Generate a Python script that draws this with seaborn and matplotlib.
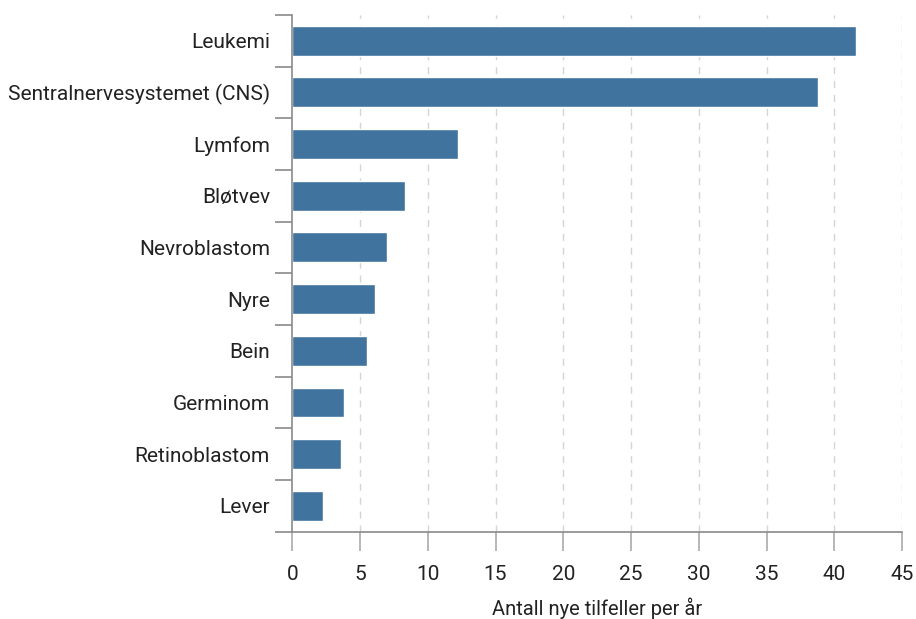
import pandas as pd
import matplotlib.pyplot as plt
import seaborn as sns

kreft = ['Leukemi', 'Sentralnervesystemet (CNS)', 'Lymfom', 'Bløtvev', 'Nevroblastom',
         'Nyre', 'Bein', 'Germinom', 'Retinoblastom', 'Lever']
tilfeller = [41.6, 38.8, 12.2, 8.3, 7.0, 6.1, 5.5, 3.8, 3.6, 2.3]
xticks = [0, 5, 10, 15, 20, 25, 30, 35, 40, 45]

df = pd.DataFrame({'type': kreft, 'antall': tilfeller})

sns.set_style('white')
plt.rcParams['font.family'] = ['Roboto', 'DejaVu Sans']

fig = plt.figure(figsize=(9.16, 6.19), dpi=100)
ax = fig.add_axes([0.319, 0.141, 0.666, 0.835])

sns.barplot(data=df, x='antall', y='type', orient='h', color='#41739f',
            saturation=1, width=0.58, ax=ax)

ax.set_xlim(0, 45)
ax.set_ylim(9.5, -0.5)
ax.set_xticks(xticks)
ax.set_xticklabels([str(t) for t in xticks])
for t in xticks[1:]:
    ax.axvline(t, color='#d4d4d4', lw=1, ls=(0, (5, 5)), zorder=0)

for s in ['top', 'right']:
    ax.spines[s].set_visible(False)
for s in ['left', 'bottom']:
    ax.spines[s].set_color('#8a8a8a')
    ax.spines[s].set_linewidth(1.2)

ax.set_yticks([i - 0.5 for i in range(11)], minor=True)
ax.tick_params(axis='both', which='both', left=True, bottom=True)
ax.tick_params(axis='y', which='minor', length=12, color='#8a8a8a', width=1.2)
ax.tick_params(axis='y', which='major', length=0, labelsize=15, labelcolor='#222222', pad=16)
ax.tick_params(axis='x', which='major', length=14, color='#aaaaaa', width=1.2,
               labelsize=15, labelcolor='#222222', pad=10)

ax.set_ylabel('')
ax.set_xlabel('Antall nye tilfeller per år', fontsize=14.5, color='#222222', labelpad=10)

fig.savefig('out.png', dpi=100)
